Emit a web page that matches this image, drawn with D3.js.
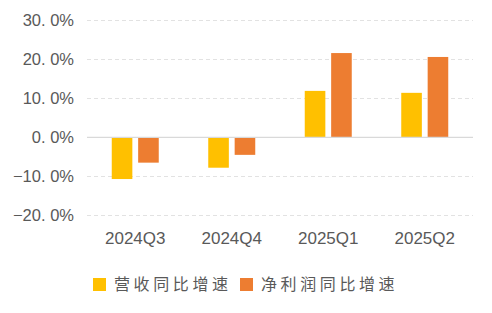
<!DOCTYPE html>
<html><head><meta charset="utf-8">
<script src="https://cdn.jsdelivr.net/npm/d3@7"></script>
<style>body{margin:0;background:#fff;} svg{display:block;}</style>
</head><body><svg id="c" width="492" height="313"></svg>
<script>
const categories = ["2024Q3","2024Q4","2025Q1","2025Q2"];
const revenueGrowth = [-10.7,-7.8,11.9,11.4];
const profitGrowth = [-6.5,-4.5,21.6,20.6];
const seriesNames = ["营收同比增速","净利润同比增速"];
const yTicks = [-20,-10,0,10,20,30];
const colors = ["#FFC000","#ED7D31"];

(function(){
const svg = d3.select("#c");
const mL = 87, mR = 473, mT = 20.3, mB = 215.3;
const y = d3.scaleLinear().domain([-20,30]).range([mB, mT]);
const x0 = d3.scaleBand().domain(categories).range([mL,mR]);
const x1 = d3.scaleBand().domain([0,1]).range([0,47]).paddingInner(0.22);

// grid
svg.append("g").selectAll("line").data(yTicks.filter(d=>d!==0)).join("line")
  .attr("x1",mL).attr("x2",mR).attr("y1",d=>Math.round(y(d))+0.5).attr("y2",d=>Math.round(y(d))+0.5)
  .attr("stroke","#e2e2e2").attr("stroke-width",1).attr("stroke-dasharray","4,3");

// y labels
const yAxis = d3.axisLeft(y).tickValues(yTicks).tickSize(0).tickPadding(0)
  .tickFormat(d=>d.toFixed(1).replace(".", ". ").replace("-", "\u2212")+"%");
const ga = svg.append("g").attr("transform","translate(74,0)").call(yAxis);
ga.select(".domain").remove();
ga.selectAll("text").attr("fill","#595959").style("font-family","'Liberation Sans',Arial,sans-serif").style("font-size","16.5px");

// bars
const groups = svg.append("g").selectAll("g").data(categories).join("g")
  .attr("transform",d=>`translate(${x0(d)+x0.bandwidth()/2-23.5},0)`);
groups.selectAll("rect").data((d,i)=>[revenueGrowth[i],profitGrowth[i]]).join("rect")
  .attr("x",(d,j)=>x1(j)).attr("width",x1.bandwidth())
  .attr("y",d=>y(Math.max(0,d))).attr("height",d=>Math.abs(y(d)-y(0)))
  .attr("fill",(d,j)=>colors[j]);

// zero line
svg.append("line").attr("x1",mL).attr("x2",mR).attr("y1",y(0)).attr("y2",y(0))
  .attr("stroke","#d9d9d9").attr("stroke-width",1.2);

// x labels
const xAxis = d3.axisBottom(x0).tickSize(0).tickPadding(0);
const gx = svg.append("g").attr("transform","translate(0,232)").call(xAxis);
gx.select(".domain").remove();
gx.selectAll("text").attr("fill","#595959").attr("dy","0.71em").style("font-family","'Liberation Sans',Arial,sans-serif").style("font-size","17px");

// legend
const legX = [93,240];
const lg = svg.append("g");
seriesNames.forEach((n,i)=>{
  lg.append("rect").attr("x",legX[i]).attr("y",278).attr("width",13).attr("height",13).attr("fill",colors[i]);
  lg.append("text").attr("x",legX[i]+21).attr("y",290).text(n)
    .attr("fill","#595959").style("font-family","'Noto Sans CJK SC',sans-serif").style("font-size","16px").style("letter-spacing","3.6px");
});
})();
</script></body></html>
